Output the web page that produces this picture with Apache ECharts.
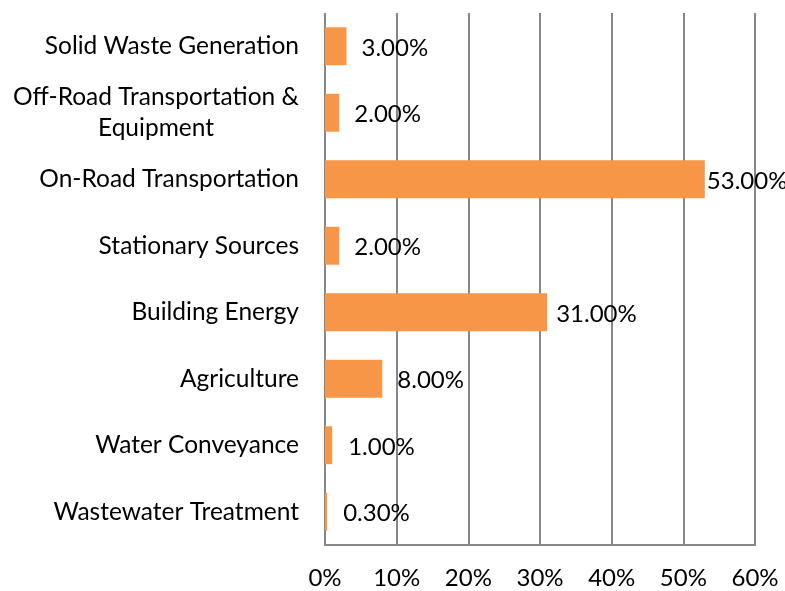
<!DOCTYPE html>
<html>
<head>
<meta charset="utf-8">
<script src="https://cdn.jsdelivr.net/npm/echarts@6/dist/echarts.min.js"></script>
<style>
  html, body { margin: 0; padding: 0; background: #fff; }
  #chart { width: 785px; height: 591px; }
</style>
</head>
<body>
<div id="chart"></div>
<script>
// categories, top to bottom
var categories = [
  'Solid Waste Generation',
  'Off-Road Transportation & Equipment',
  'On-Road Transportation',
  'Stationary Sources',
  'Building Energy',
  'Agriculture',
  'Water Conveyance',
  'Wastewater Treatment'
]
var shares = [3, 2, 53, 2, 31, 8, 1, 0.3]
// distance of the data label from the bar end
var labelGaps = [15, 15, 2, 15, 9, 15, 16, 16]
var xTicks = [0, 10, 20, 30, 40, 50, 60]

var font = 'Lato'
var size = 24
var chart = echarts.init(document.getElementById('chart'))

var option = {
  animation: false,
  grid: {
    left: 325,
    right: 30,
    top: 13,
    bottom: 46
  },
  xAxis: {
    type: 'value',
    min: xTicks[0],
    max: xTicks[xTicks.length - 1],
    interval: 10,
    axisLine: { show: true, lineStyle: { color: '#878787', width: 2 } },
    axisTick: { show: false },
    splitLine: { show: true, lineStyle: { color: '#878787', width: 2 } },
    axisLabel: {
      margin: 21,
      color: '#000',
      fontFamily: font,
      fontSize: size,
      formatter: function (v) { return v + '%' }
    }
  },
  yAxis: {
    type: 'category',
    inverse: true,
    data: categories,
    axisLine: { show: false },
    axisTick: { show: false },
    axisLabel: {
      margin: 26,
      color: '#000',
      fontFamily: font,
      fontSize: 24.5,
      formatter: function (v) {
        // 长标签分两行，行内居中
        if (v.indexOf('&') > -1) {
          return '{c|Off-Road Transportation &}\n{c|Equipment}'
        }
        return v
      },
      rich: {
        c: {
          width: 286,
          align: 'center',
          lineHeight: 31,
          color: '#000',
          fontFamily: font,
          fontSize: 24.5
        }
      }
    }
  },
  series: [
    {
      type: 'bar',
      barCategoryGap: '43%',
      itemStyle: { color: '#f79646' },
      data: shares.map(function (v, i) {
        return {
          value: v,
          label: { distance: labelGaps[i] }
        }
      }),
      label: {
        show: true,
        position: 'right',
        offset: [0, 2],
        color: '#000',
        fontFamily: font,
        fontSize: size,
        formatter: function (p) { return p.value.toFixed(2) + '%' }
      }
    }
  ]
}

chart.setOption(option)
</script>
</body>
</html>
